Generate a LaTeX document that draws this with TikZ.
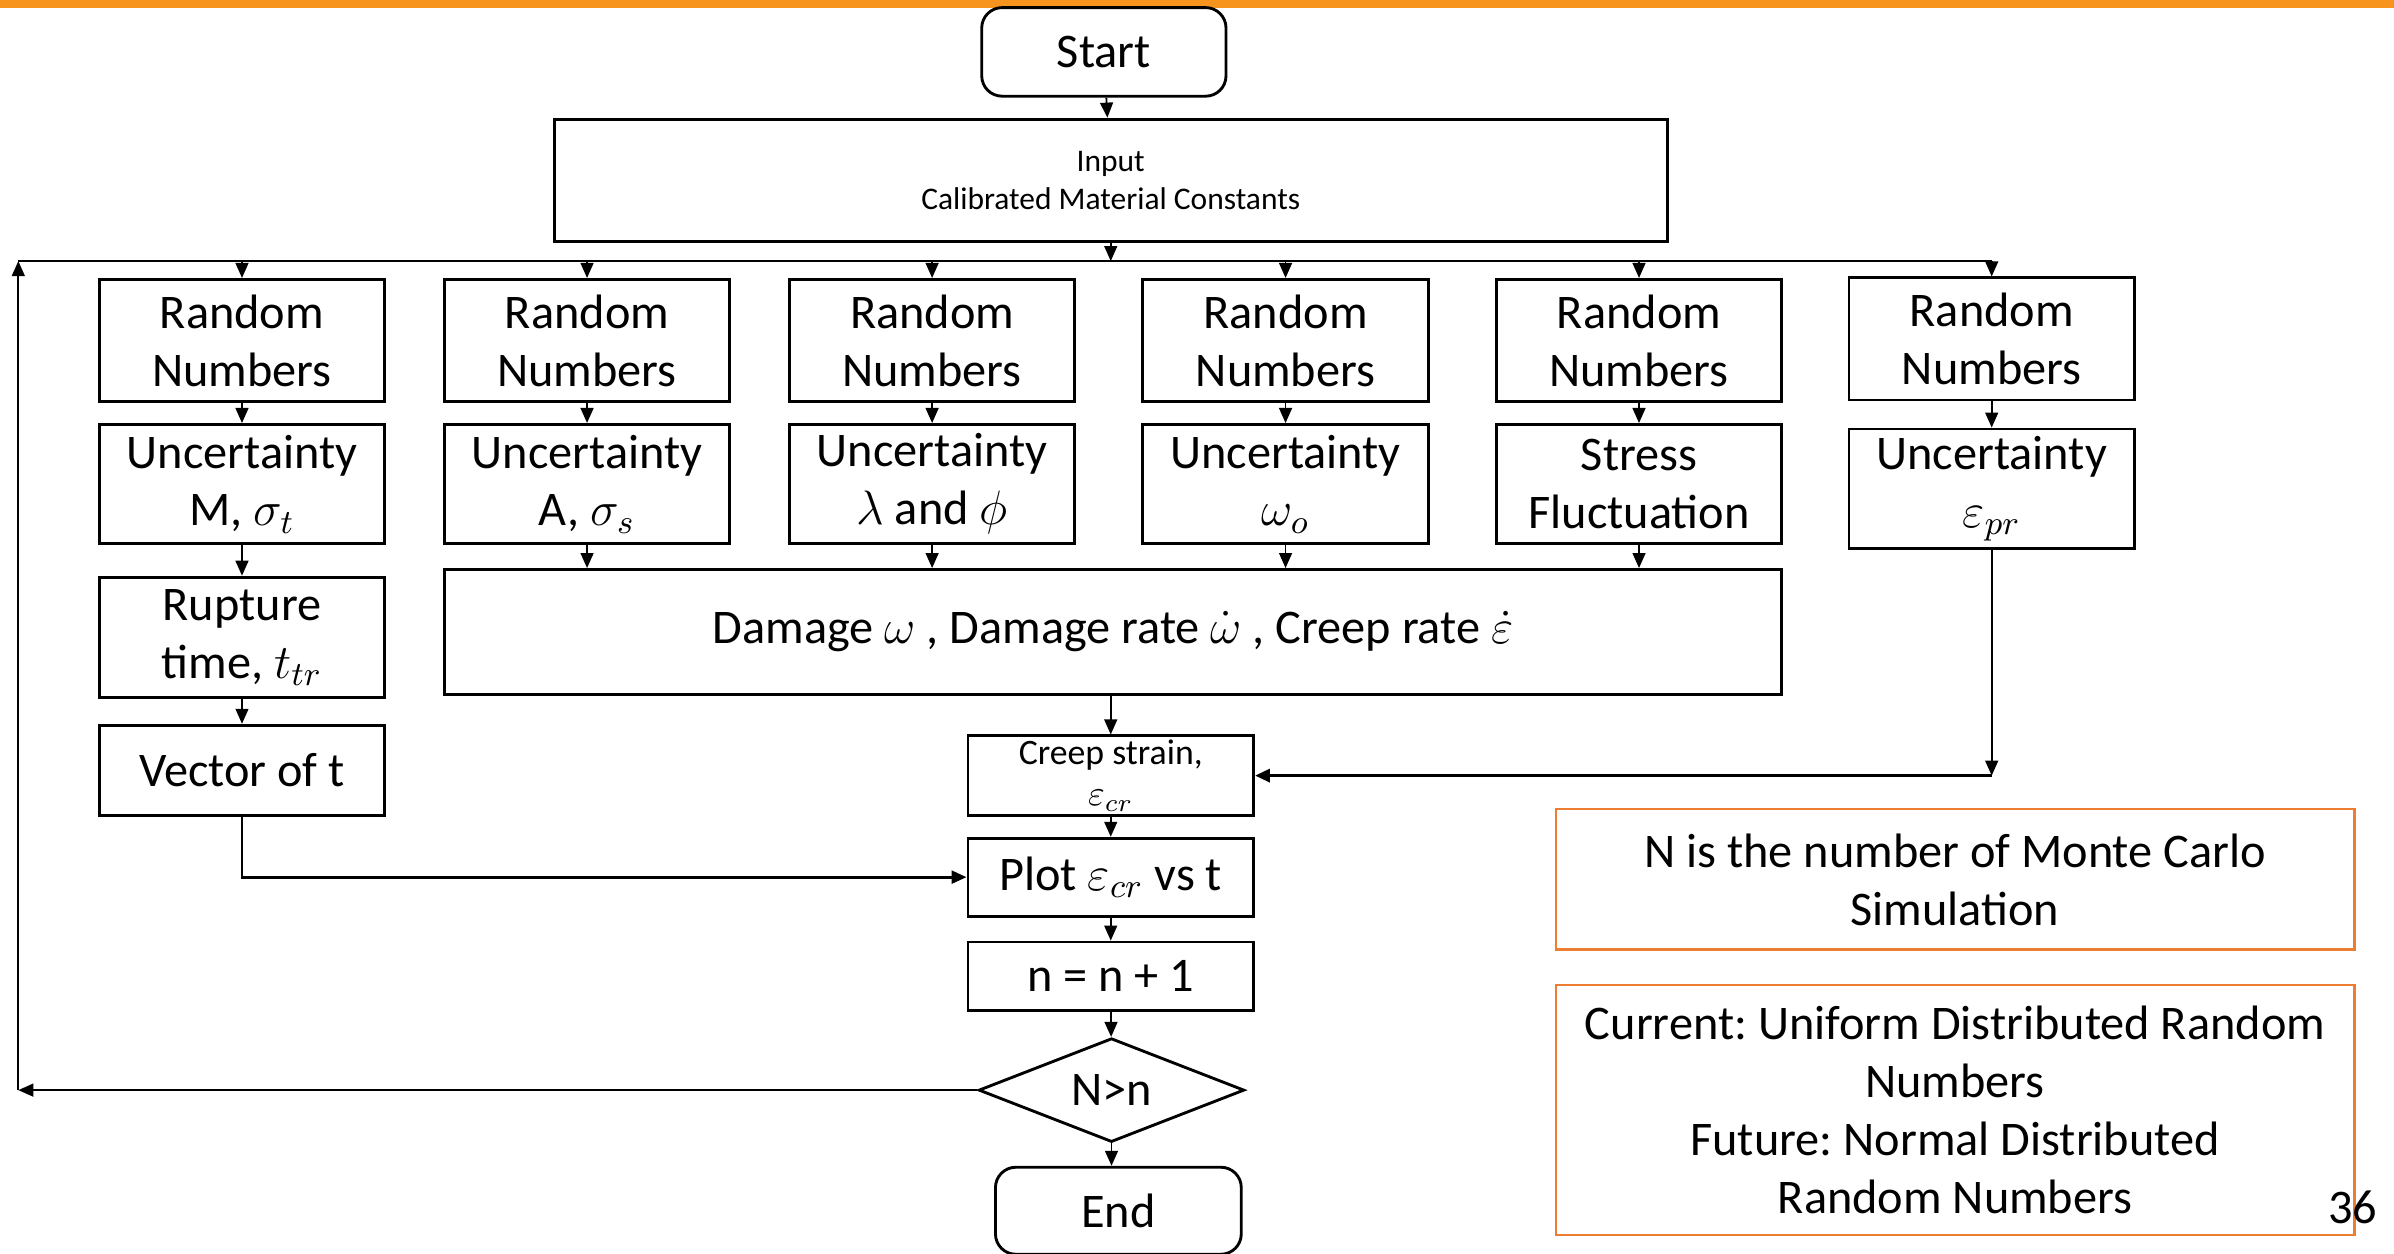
\documentclass[tikz,border=0pt]{standalone}
\usepackage{fix-cm}
\usepackage{fontspec}
\setmainfont{Carlito}
\frenchspacing
\usetikzlibrary{arrows.meta, positioning, shapes.geometric}

\definecolor{bandorange}{RGB}{247,148,29}
\definecolor{noteorange}{RGB}{237,125,49}

\begin{document}
\begin{tikzpicture}[
        x=0.015cm, y=-0.015cm,
        >={Triangle[length=4.2pt,width=3.6pt]},
        every node/.style={font=\fontsize{13.5}{16.2}\selectfont, align=center},
        box/.style={draw, line width=0.8pt, minimum width=2.805cm, inner sep=0pt},
        term/.style={box, rounded corners=0.2cm},
        note/.style={draw=noteorange, line width=0.7pt, minimum width=7.845cm, inner sep=0pt},
        link/.style={->, line width=0.5pt}
    ]
        \useasboundingbox (0,0) rectangle (1568,821);
        \fill[bandorange] (0,0) rectangle (1568,5);

        % main column
        \node[term, minimum width=2.4cm, minimum height=0.87cm] (start) at (723,34) {Start};
        \node[box, minimum width=10.935cm, minimum height=1.2cm, font=\fontsize{8.8}{10.6}\selectfont] (input) at (727.5,118) {Input\\Calibrated Material Constants};

        % random numbers, one per parameter
        \node[box, minimum height=1.2cm] (rn1) at (158.5,223) {Random\\Numbers};
        \node[box, minimum height=1.2cm] (rn2) at (384.5,223) {Random\\Numbers};
        \node[box, minimum height=1.2cm] (rn3) at (610.5,223) {Random\\Numbers};
        \node[box, minimum height=1.2cm] (rn4) at (842,223) {Random\\Numbers};
        \node[box, minimum height=1.2cm] (rn5) at (1073.5,223) {Random\\Numbers};
        \node[box, minimum height=1.2cm] (rn6) at (1304.5,222) {Random\\Numbers};

        \node[box, minimum height=1.17cm] (un1) at (158.5,317) {Uncertainty\\M, $\sigma_t$};
        \node[box, minimum height=1.17cm] (un2) at (384.5,317) {Uncertainty\\A, $\sigma_s$};
        \node[box, minimum height=1.17cm] (un3) at (610.5,317) {Uncertainty\\$\lambda$ and $\phi$};
        \node[box, minimum height=1.17cm] (un4) at (842,317) {Uncertainty\\$\omega_o$};
        \node[box, minimum height=1.17cm] (un5) at (1073.5,317) {Stress\\Fluctuation};
        \node[box, minimum height=1.17cm] (un6) at (1304.5,320) {Uncertainty\\$\varepsilon_{pr}$};

        \node[box, minimum height=1.185cm] (rup) at (158.5,417.5) {Rupture\\time, $t_{tr}$};
        \node[box, minimum height=0.885cm] (vec) at (158.5,504.5) {Vector of t};

        \node[box, minimum width=13.14cm, minimum height=1.23cm] (dmg) at (729,414) {Damage $\omega$ , Damage rate $\dot{\omega}$ , Creep rate $\dot{\varepsilon}$};

        \node[box, minimum height=0.78cm, font=\fontsize{10}{11.5}\selectfont] (creep) at (727.5,508) {Creep strain,\\$\varepsilon_{cr}$};
        \node[box, minimum height=0.765cm] (plot) at (727.5,574.5) {Plot $\varepsilon_{cr}$ vs t};
        \node[box, minimum height=0.675cm] (incr) at (727.5,639.5) {n = n + 1};
        \node[draw, diamond, aspect=2.56, line width=0.8pt, minimum width=2.61cm, minimum height=1.02cm, inner sep=0pt] (check) at (728,714) {N>n};
        \node[term, minimum width=2.415cm, minimum height=0.855cm] (stop) at (732.5,793) {End};

        % side notes
        \node[note, minimum height=1.38cm] (note1) at (1280.5,576) {N is the number of Monte Carlo\\Simulation};
        \node[note, minimum height=2.46cm] (note2) at (1280.5,727) {Current: Uniform Distributed Random\\Numbers\\Future: Normal Distributed\\Random Numbers};
        \node (pg) at (1541,791) {36};

        % connectors
        \coordinate (top) at (12,171);
        \coordinate (back) at (12,714);
        \draw[link] (start) -- (input);
        \draw[link] (input.south) -- (input.south |- top);
        \draw[line width=0.5pt] (top) -- (top -| rn6);
        \draw[link] (rn1 |- top) -- (rn1.north);
        \draw[link] (rn2 |- top) -- (rn2.north);
        \draw[link] (rn3 |- top) -- (rn3.north);
        \draw[link] (rn4 |- top) -- (rn4.north);
        \draw[link] (rn5 |- top) -- (rn5.north);
        \draw[link] (rn6 |- top) -- (rn6.north);

        \draw[link] (rn1) -- (un1);
        \draw[link] (rn2) -- (un2);
        \draw[link] (rn3) -- (un3);
        \draw[link] (rn4) -- (un4);
        \draw[link] (rn5) -- (un5);
        \draw[link] (rn6) -- (un6);
        \draw[link] (un1) -- (rup);
        \draw[link] (rup) -- (vec);

        \draw[link] (un2.south) -- (un2.south |- dmg.north);
        \draw[link] (un3.south) -- (un3.south |- dmg.north);
        \draw[link] (un4.south) -- (un4.south |- dmg.north);
        \draw[link] (un5.south) -- (un5.south |- dmg.north);
        \draw[link] (dmg.south -| creep) -- (creep.north);

        \coordinate (join) at (un6.south |- creep.east);
        \draw[link] (un6.south) -- (join);
        \draw[link, line width=1pt] (join) -- (creep.east);
        \draw[link, line width=0.8pt] (vec.south) |- (plot.west);

        \draw[link] (creep) -- (plot);
        \draw[link] (plot) -- (incr);
        \draw[link] (incr) -- (check);
        \draw[link] (check.south) -- (check.south |- stop.north);
        \draw[link] (check.west) -- (back);
        \draw[link] (back) -- (top);
    \end{tikzpicture}
\end{document}
